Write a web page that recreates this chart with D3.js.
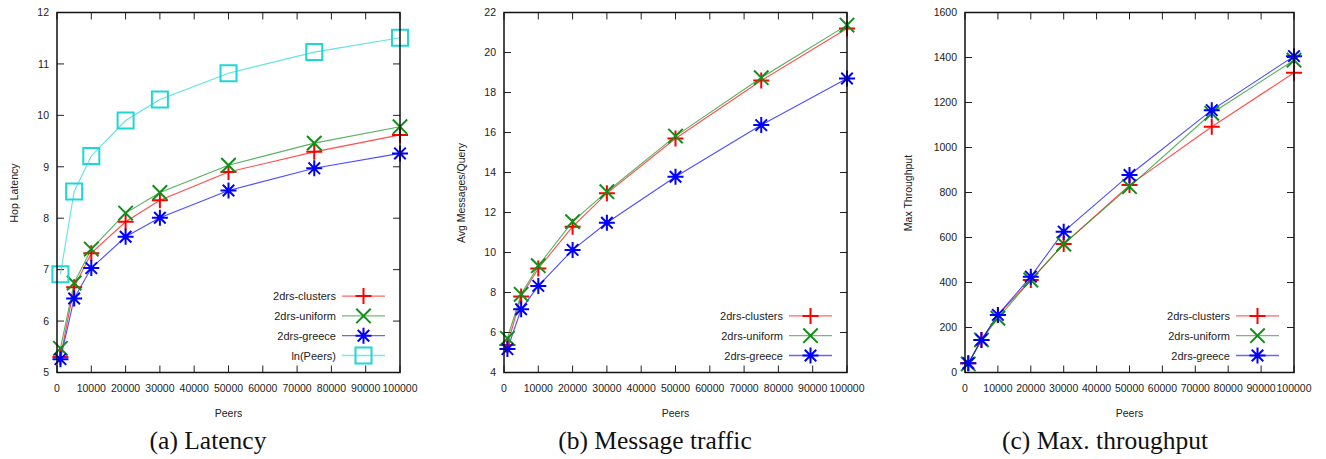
<!DOCTYPE html>
<html>
<head>
<meta charset="utf-8">
<script src="https://cdn.jsdelivr.net/npm/d3@7"></script>
<style>
  body { margin: 0; background: #fff; }
  svg { display: block; }
  .tick-label { font-family: "Liberation Sans", Arial, sans-serif; font-size: 10.5px; fill: #222; }
  .axis-title { font-family: "Liberation Sans", Arial, sans-serif; font-size: 10.5px; fill: #222; }
  .legend-label { font-family: "Liberation Sans", Arial, sans-serif; font-size: 11px; fill: #222; }
  .caption { font-family: "Liberation Serif", "Times New Roman", serif; font-size: 25.5px; fill: #111; }
</style>
</head>
<body>
<svg id="chart" width="1326" height="459"></svg>
<script>
// --- data ---
const peers = [1000, 5000, 10000, 20000, 30000, 50000, 75000, 100000];
const xTicks = [0, 10000, 20000, 30000, 40000, 50000, 60000, 70000, 80000, 90000, 100000];

// (a) hop latency
const latClusters = [5.30, 6.66, 7.32, 7.93, 8.35, 8.90, 9.29, 9.62];
const latUniform  = [5.47, 6.74, 7.40, 8.10, 8.50, 9.03, 9.46, 9.78];
const latGreece   = [5.26, 6.44, 7.03, 7.64, 8.01, 8.54, 8.97, 9.26];
const latLnPeers  = [6.91, 8.52, 9.21, 9.90, 10.31, 10.82, 11.23, 11.51];
const latTicks = [5, 6, 7, 8, 9, 10, 11, 12];

// (b) avg messages per query
const msgClusters = [5.38, 7.80, 9.20, 11.29, 12.96, 15.70, 18.60, 21.20];
const msgUniform  = [5.71, 7.91, 9.34, 11.54, 13.04, 15.82, 18.74, 21.37];
const msgGreece   = [5.17, 7.16, 8.33, 10.13, 11.49, 13.79, 16.37, 18.70];
const msgTicks = [4, 6, 8, 10, 12, 14, 16, 18, 20, 22];

// (c) max throughput
const thrClusters = [41, 145, 256, 411, 571, 833, 1092, 1332];
const thrUniform  = [38, 145, 241, 411, 571, 826, 1152, 1388];
const thrGreece   = [41, 145, 256, 426, 626, 878, 1166, 1406];
const thrTicks = [0, 200, 400, 600, 800, 1000, 1200, 1400, 1600];

const seriesStyle = {
  clusters: { name: "2drs-clusters", color: "#ff0000", marker: "plus" },
  uniform:  { name: "2drs-uniform",  color: "#10901a", marker: "cross" },
  greece:   { name: "2drs-greece",   color: "#0000ff", marker: "star" },
  ln:       { name: "ln(Peers)",     color: "#1fd6d6", marker: "square" }
};

const panels = [
  { left: 57, right: 400, yTicks: latTicks, yTitle: "Hop Latency", yTitleX: 14,
    caption: "(a) Latency", captionX: 208,
    series: [["clusters", latClusters], ["uniform", latUniform], ["greece", latGreece], ["ln", latLnPeers]] },
  { left: 504, right: 847, yTicks: msgTicks, yTitle: "Avg Messages/Query", yTitleX: 461,
    caption: "(b) Message traffic", captionX: 655,
    series: [["clusters", msgClusters], ["uniform", msgUniform], ["greece", msgGreece]] },
  { left: 965, right: 1294, yTicks: thrTicks, yTitle: "Max Throughput", yTitleX: 908,
    caption: "(c) Max. throughput", captionX: 1105,
    series: [["clusters", thrClusters], ["uniform", thrUniform], ["greece", thrGreece]] }
];

const plotTop = 12.5, plotBottom = 372.5, tickLen = 7;
const svg = d3.select("#chart");

function markerPath(type, s) {
  if (type === "plus") return `M${-s},0H${s}M0,${-s}V${s}`;
  if (type === "cross") { const c = s * 0.9; return `M${-c},${-c}L${c},${c}M${-c},${c}L${c},${-c}`; }
  if (type === "star") { const c = s * 0.72; return `M${-s},0H${s}M0,${-s}V${s}M${-c},${-c}L${c},${c}M${-c},${c}L${c},${-c}`; }
  return `M${-s},${-s}H${s}V${s}H${-s}Z`;
}

panels.forEach(p => {
  const g = svg.append("g");
  const x = d3.scaleLinear().domain([0, 100000]).range([p.left, p.right]);
  const y = d3.scaleLinear().domain(d3.extent(p.yTicks)).range([plotBottom, plotTop]);

  // inward ticks on all sides
  const ticks = g.append("g").attr("stroke", "#222").attr("stroke-width", 1);
  xTicks.forEach(t => {
    ticks.append("line").attr("x1", x(t)).attr("x2", x(t)).attr("y1", plotBottom).attr("y2", plotBottom - tickLen);
    ticks.append("line").attr("x1", x(t)).attr("x2", x(t)).attr("y1", plotTop).attr("y2", plotTop + tickLen);
  });
  p.yTicks.forEach(t => {
    ticks.append("line").attr("x1", p.left).attr("x2", p.left + tickLen).attr("y1", y(t)).attr("y2", y(t));
    ticks.append("line").attr("x1", p.right).attr("x2", p.right - tickLen).attr("y1", y(t)).attr("y2", y(t));
  });

  g.selectAll(".xl").data(xTicks).join("text").attr("class", "tick-label")
    .attr("x", d => x(d)).attr("y", 392).attr("text-anchor", "middle").text(d => d);
  g.selectAll(".yl").data(p.yTicks).join("text").attr("class", "tick-label")
    .attr("x", p.left - 8).attr("y", d => y(d) + 3.8).attr("text-anchor", "end").text(d => d);

  g.append("text").attr("class", "axis-title").attr("x", (p.left + p.right) / 2).attr("y", 417)
    .attr("text-anchor", "middle").text("Peers");
  g.append("text").attr("class", "axis-title")
    .attr("transform", `translate(${p.yTitleX + 4},193) rotate(-90)`)
    .attr("text-anchor", "middle").text(p.yTitle);

  // series lines then markers
  const line = d3.line().x((d, i) => x(peers[i])).y(d => y(d));
  p.series.forEach(([key, vals]) => {
    const st = seriesStyle[key];
    g.append("path").attr("d", line(vals)).attr("fill", "none")
      .attr("stroke", st.color).attr("stroke-opacity", 0.7).attr("stroke-width", 1.1);
  });
  p.series.forEach(([key, vals]) => {
    const st = seriesStyle[key];
    g.selectAll(null).data(vals).join("path")
      .attr("transform", (d, i) => `translate(${x(peers[i])},${y(d)})`)
      .attr("d", markerPath(st.marker, 8)).attr("fill", "none")
      .attr("stroke", st.color).attr("stroke-width", 2);
  });

  // legend, bottom-right
  const n = p.series.length;
  p.series.forEach(([key], i) => {
    const st = seriesStyle[key];
    const ly = plotBottom - 17 - (n - 1 - i) * 19.8;
    const lx1 = p.right - 58, lx2 = p.right - 15;
    g.append("line").attr("x1", lx1).attr("x2", lx2).attr("y1", ly).attr("y2", ly)
      .attr("stroke", st.color).attr("stroke-opacity", 0.6).attr("stroke-width", 1.3);
    g.append("path").attr("transform", `translate(${(lx1 + lx2) / 2},${ly})`)
      .attr("d", markerPath(st.marker, 8)).attr("fill", "none")
      .attr("stroke", st.color).attr("stroke-width", 2);
    g.append("text").attr("class", "legend-label").attr("x", lx1 - 6).attr("y", ly + 4)
      .attr("text-anchor", "end").text(st.name);
  });

  // frame
  g.append("rect").attr("x", p.left).attr("y", plotTop).attr("width", p.right - p.left)
    .attr("height", plotBottom - plotTop).attr("fill", "none").attr("stroke", "#111").attr("stroke-width", 1.5);

  svg.append("text").attr("class", "caption").attr("x", p.captionX).attr("y", 449)
    .attr("text-anchor", "middle").text(p.caption);
});
</script>
</body>
</html>
